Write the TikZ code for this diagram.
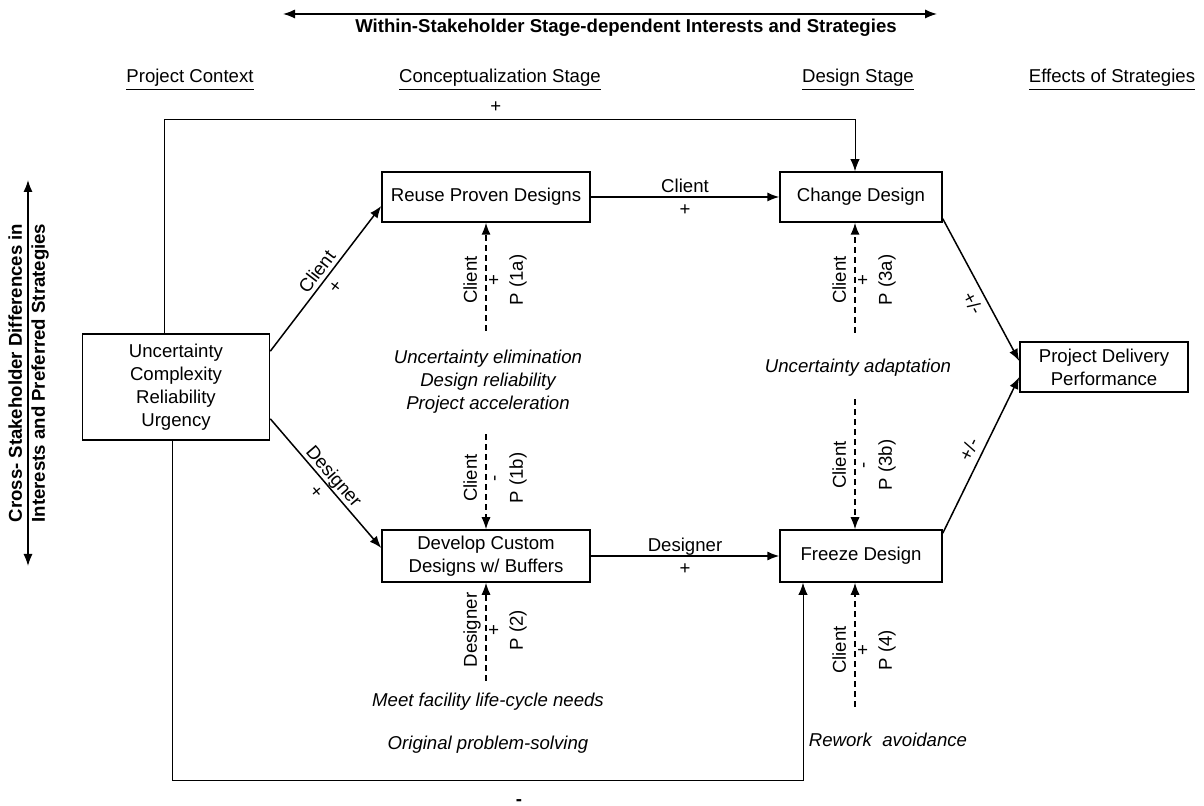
\documentclass[tikz,border=0pt]{standalone}
\usepackage{fontspec}
\setmainfont{Liberation Sans}
\usetikzlibrary{calc,arrows.meta}

\tikzset{
  box/.style={draw, line width=0.75pt, align=center, inner sep=2pt},
  goal/.style={align=center, font=\itshape},
  arr/.style={line width=0.75pt, -{Latex[length=6pt,width=4.6pt]}},
  dasharr/.style={arr, dash pattern=on 3pt off 2pt},
  fbarr/.style={line width=0.45pt, -{Latex[length=6pt,width=4.6pt]}},
  axis/.style={line width=0.75pt, {Latex[length=6pt,width=4.6pt]}-{Latex[length=6pt,width=4.6pt]}},
  plab/.style={rotate=90, align=center},
  elab/.style={align=center, sloped, midway, inner sep=1pt},
}

\begin{document}
\fontsize{9.3}{11.5}\selectfont
\begin{tikzpicture}[x=0.5pt, y=-0.5pt]
\useasboundingbox (0,0) rectangle (1204,806);

% axes
\coordinate (wl) at (283,14);
\coordinate (wr) at (937,14);
\draw[axis] (wl) -- (wr);
\node[font=\bfseries] (within) at (626,28) {Within-Stakeholder Stage-dependent Interests and Strategies};
\coordinate (ct) at (28,180);
\coordinate (cb) at (28,566);
\draw[axis] (ct) -- (cb);
\node[plab, font=\bfseries] (cross) at (28.5,373) {Cross- Stakeholder Differences in\\Interests and Preferred Strategies};

% column heads
\node (hctx) at (190,80) {\underline{Project Context}};
\node (hcon) at (500,80) {\underline{Conceptualization Stage}};
\node (hdes) at (858,80) {\underline{Design Stage}};
\node (heff) at (1112,80) {\underline{Effects of Strategies}};

% boxes
\node[box, minimum width=93.5pt, minimum height=53pt] (ctx) at (176,387) {Uncertainty\\Complexity\\Reliability\\Urgency};
\node[box, minimum width=104pt, minimum height=25pt] (reuse) at (486,197) {Reuse Proven Designs};
\node[box, minimum width=81pt, minimum height=25pt] (change) at (861,197) {Change Design};
\node[box, minimum width=104pt, minimum height=26pt] (develop) at (486,556) {Develop Custom\\Designs w/ Buffers};
\node[box, minimum width=81pt, minimum height=26pt] (freeze) at (861,556) {Freeze Design};
\node[box, minimum width=84pt, minimum height=25pt] (perf) at (1104,367) {Project Delivery\\Performance};

% strategies
\draw[arr] ($(ctx.north east)+(0,18)$) -- node[elab]{Client\\+} ($(reuse.west)+(0,9)$);
\draw[arr] ($(ctx.south east)+(0,-22)$) -- node[elab]{Designer\\+} ($(develop.west)+(0,-8)$);
\draw[arr] (reuse) -- node[align=center]{Client\\+} (change);
\draw[arr] (develop) -- node[align=center]{Designer\\+} (freeze);
\draw[arr] ($(change.south east)+(0,-4)$) -- node[elab, pos=0.55, below=2pt]{+/-} ($(perf.west)+(0,-6)$);
\draw[arr] ($(freeze.north east)+(0,4)$) -- node[elab, above=2pt]{+/-} ($(perf.west)+(0,10)$);

% context loops
\draw[fbarr] ([xshift=-6pt]ctx.north) -- ++(0,-214) -| node[pos=0.24, above]{+} ([xshift=-3pt]change.north);
\draw[fbarr] ([xshift=-2pt]ctx.south) -- ++(0,340) -| node[pos=0.275, below=6pt, font=\bfseries]{-} ([xshift=-29pt]freeze.south);

% propositions
\draw[dasharr] ($(reuse.south)+(0,108)$) -- (reuse.south);
\node[plab] (p1a) at (495,280) {Client\\+\\P (1a)};
\draw[dasharr] ($(develop.north)+(0,-95)$) -- (develop.north);
\node[plab] (p1b) at (495,478) {Client\\-\\P (1b)};
\draw[dasharr] ($(develop.south)+(0,98)$) -- (develop.south);
\node[plab] (p2) at (495,630) {Designer\\+\\P (2)};
\draw[dasharr] ($(change.south)+(-6,110)$) -- ([xshift=-3pt]change.south);
\node[plab] (p3a) at (864,280) {Client\\+\\P (3a)};
\draw[dasharr] ($(freeze.north)+(-6,-130)$) -- ([xshift=-3pt]freeze.north);
\node[plab] (p3b) at (864,465) {Client\\-\\P (3b)};
\draw[dasharr] ($(freeze.south)+(-6,124)$) -- ([xshift=-3pt]freeze.south);
\node[plab] (p4) at (864,650) {Client\\+\\P (4)};

% interests
\node[goal] (g1) at (488,382) {Uncertainty elimination\\Design reliability\\Project acceleration};
\node[goal] (g3) at (858,368) {Uncertainty adaptation};
\node[goal] (g2a) at (488,702) {Meet facility life-cycle needs};
\node[goal] (g2b) at (488,745) {Original problem-solving};
\node[goal] (g4) at (888,740) {Rework\ \ avoidance};
\end{tikzpicture}
\end{document}
